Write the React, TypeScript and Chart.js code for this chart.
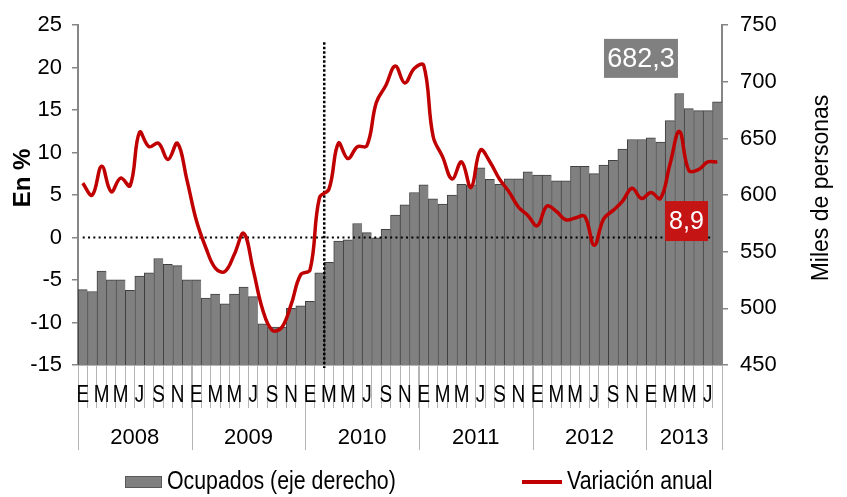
import React, { useEffect, useRef } from 'react';
import { Chart, registerables } from 'chart.js';

Chart.register(...registerables);

// ---- data ----
const monthLetters = ['E', 'F', 'M', 'A', 'M', 'J', 'J', 'A', 'S', 'O', 'N', 'D'];
const years = ['2008', '2009', '2010', '2011', '2012', '2013'];
const monthsPerYear = [12, 12, 12, 12, 12, 8];

// Ocupados (miles de personas), eje derecho
const ocupados = [
  516.6, 514.9, 532.9, 525.1, 525.1, 516.0, 528.6, 531.4, 544.0, 538.9, 537.7, 525.1,
  525.1, 509.1, 512.6, 504.0, 512.6, 518.9, 510.3, 486.3, 483.4, 483.4, 500.0, 502.3,
  506.3, 531.4, 540.6, 559.4, 560.6, 574.9, 566.9, 562.3, 569.7, 582.3, 591.4, 602.3,
  609.1, 596.6, 592.0, 600.0, 609.5, 609.1, 624.0, 614.0, 609.5, 614.3, 614.3, 620.6,
  617.7, 617.7, 612.6, 612.6, 625.4, 625.4, 618.9, 626.6, 630.6, 640.6, 649.1, 649.1,
  650.6, 646.9, 665.7, 689.7, 676.3, 674.6, 674.6, 682.3,
];

// Variación anual (%), eje izquierdo
const variacionAnual = [
  6.4, 5.0, 8.4, 5.4, 7.0, 6.1, 12.4, 10.7, 11.1, 9.2, 11.1, 6.8,
  2.0, -1.2, -3.6, -4.0, -2.0, 0.5, -3.8, -8.5, -10.9, -10.6, -7.9, -4.4,
  -3.8, 4.7, 5.7, 11.1, 9.3, 10.7, 10.8, 15.9, 17.9, 20.2, 18.2, 19.9,
  20.3, 11.9, 9.5, 6.9, 8.9, 5.9, 10.3, 8.9, 6.9, 5.4, 3.6, 2.6,
  1.4, 3.7, 3.1, 2.1, 2.3, 2.5, -0.9, 2.2, 3.2, 4.3, 5.8, 4.6,
  5.3, 4.6, 8.6, 12.5, 7.9, 8.0, 8.9, 8.9,
];

const leftAxis = { min: -15, max: 25, step: 5 };
const rightAxis = { min: 450, max: 750, step: 50 };
const markerAfterIndex = 25; // vertical reference line between Feb-2010 and Mar-2010
const markerTop = 23; // top of the vertical reference line (left axis units)

const seriesNames = ['Ocupados (eje derecho)', 'Variación anual'];
const axisTitles = ['En %', 'Miles de personas'];

// ---- derived ----
const categories: string[] = [];
years.forEach((y, yi) => {
  for (let m = 0; m < monthsPerYear[yi]; m++) categories.push(monthLetters[m] + ' ' + y);
});

const SANS = '"Liberation Sans", Arial, sans-serif';
const NARROW_SCALE = 0.82;
const BAR_COLOR = '#808080';
const LINE_COLOR = '#c00000';
const AXIS_COLOR = '#868686';
const TICK_GRAY = '#b4b4b4';

const fmt = (v: number) => v.toFixed(1).replace('.', ',');

function narrowText(ctx: CanvasRenderingContext2D, text: string, x: number, y: number) {
  ctx.save();
  ctx.translate(x, y);
  ctx.scale(NARROW_SCALE, 1);
  ctx.fillText(text, 0, 0);
  ctx.restore();
}

const extrasPlugin = {
  id: 'extras',
  beforeDatasetDraw(chart: any, args: any) {
    if (args.index !== 1) return;
    const { ctx, chartArea } = chart;
    const xs = chart.scales.x;
    const yl = chart.scales.y;
    const step = xs.getPixelForValue(1) - xs.getPixelForValue(0);
    ctx.save();
    ctx.strokeStyle = '#000';
    // zero line
    ctx.lineWidth = 2;
    ctx.setLineDash([2, 3.3]);
    const y0 = yl.getPixelForValue(0);
    ctx.beginPath();
    ctx.moveTo(xs.getPixelForValue(0), y0);
    ctx.lineTo(xs.getPixelForValue(categories.length - 1) - step / 2, y0);
    ctx.stroke();
    // vertical reference line
    const xv = (xs.getPixelForValue(markerAfterIndex) + xs.getPixelForValue(markerAfterIndex + 1)) / 2;
    ctx.lineWidth = 2.5;
    ctx.setLineDash([2.5, 2]);
    ctx.beginPath();
    ctx.moveTo(xv, yl.getPixelForValue(markerTop));
    ctx.lineTo(xv, chartArea.bottom + 3);
    ctx.stroke();
    ctx.restore();
  },
  afterDraw(chart: any) {
    const { ctx, chartArea } = chart;
    const xs = chart.scales.x;
    const yl = chart.scales.y;
    const yr = chart.scales.y1;
    const step = xs.getPixelForValue(1) - xs.getPixelForValue(0);
    ctx.save();

    // year dividers
    ctx.strokeStyle = TICK_GRAY;
    ctx.lineWidth = 1;
    let start = 0;
    const bounds: number[] = [0];
    monthsPerYear.forEach((n) => { start += n; bounds.push(start); });
    bounds.forEach((b) => {
      const x = Math.round(b < categories.length ? xs.getPixelForValue(b) - step / 2 : xs.getPixelForValue(b - 1) + step / 2) + 0.5;
      ctx.beginPath();
      ctx.moveTo(x, chartArea.bottom);
      ctx.lineTo(x, chartArea.bottom + 85);
      ctx.stroke();
    });

    // month labels (every other month)
    ctx.fillStyle = '#000';
    ctx.textAlign = 'center';
    ctx.textBaseline = 'middle';
    ctx.font = `23px ${SANS}`;
    categories.forEach((c, i) => {
      if (i % 2 !== 0) return;
      narrowText(ctx, c.split(' ')[0], xs.getPixelForValue(i), chartArea.bottom + 30.5);
    });

    // year labels
    ctx.font = `22px ${SANS}`;
    years.forEach((y, i) => {
      const a = bounds[i];
      const b = bounds[i + 1] - 1;
      const cx = (xs.getPixelForValue(a) + xs.getPixelForValue(b)) / 2;
      ctx.fillText(y, cx, chartArea.bottom + 73);
    });

    // axis titles
    ctx.save();
    ctx.translate(23, 178);
    ctx.rotate(-Math.PI / 2);
    ctx.font = `bold 24px ${SANS}`;
    ctx.fillText(axisTitles[0], 0, 0);
    ctx.restore();
    ctx.save();
    ctx.translate(822, 188);
    ctx.rotate(-Math.PI / 2);
    ctx.font = `23px ${SANS}`;
    ctx.fillText(axisTitles[1], 0, 0);
    ctx.restore();

    // value boxes
    const last = categories.length - 1;
    const px = xs.getPixelForValue(last);
    const pyBar = yr.getPixelForValue(ocupados[last]);
    ctx.fillStyle = BAR_COLOR;
    ctx.fillRect(px - 76.3 - 37, pyBar - 43.5 - 19.5, 74, 39);
    ctx.fillStyle = '#fff';
    ctx.font = `27px ${SANS}`;
    ctx.fillText(fmt(ocupados[last]), px - 76.3, pyBar - 43.5 + 1);

    const pyLine = yl.getPixelForValue(variacionAnual[last]);
    ctx.fillStyle = '#c41414';
    ctx.fillRect(px - 30.8 - 21.5, pyLine + 59.1 - 20, 43, 40);
    ctx.fillStyle = '#fff';
    ctx.font = `25px ${SANS}`;
    ctx.fillText(fmt(variacionAnual[last]), px - 30.8, pyLine + 59.1 + 1);

    // legend
    const ly = 482;
    ctx.fillStyle = BAR_COLOR;
    ctx.fillRect(125, ly - 6, 37, 12);
    ctx.strokeStyle = '#333';
    ctx.lineWidth = 1;
    ctx.setLineDash([1, 1]);
    ctx.strokeRect(125.5, ly - 5.5, 36, 11);
    ctx.setLineDash([]);
    ctx.fillStyle = '#000';
    ctx.font = `26px ${SANS}`;
    ctx.textAlign = 'left';
    narrowText(ctx, seriesNames[0], 167, ly);
    ctx.strokeStyle = LINE_COLOR;
    ctx.lineWidth = 4;
    ctx.beginPath();
    ctx.moveTo(522, ly);
    ctx.lineTo(562, ly);
    ctx.stroke();
    narrowText(ctx, seriesNames[1], 567, ly);

    ctx.restore();
  },
};

export default function App() {
  const ref = useRef<HTMLCanvasElement | null>(null);
  useEffect(() => {
    if (!ref.current) return;
    const chart = new Chart(ref.current, {
      data: {
        labels: categories,
        datasets: [
          {
            type: 'bar',
            label: seriesNames[0],
            data: ocupados,
            yAxisID: 'y1',
            backgroundColor: BAR_COLOR,
            borderColor: 'rgba(30,30,30,0.85)',
            borderWidth: { top: 1, left: 1, right: 0, bottom: 0 },
            barPercentage: 1,
            categoryPercentage: 1,
            order: 1,
          },
          {
            type: 'line',
            label: seriesNames[1],
            data: variacionAnual,
            yAxisID: 'y',
            borderColor: LINE_COLOR,
            borderWidth: 3.5,
            pointRadius: 0,
            tension: 0.4,
            fill: false,
            order: 0,
          },
        ],
      } as any,
      plugins: [extrasPlugin],
      options: {
        responsive: false,
        animation: false,
        layout: { padding: { top: 15, left: 0, right: 0, bottom: 0 } },
        plugins: { legend: { display: false }, tooltip: { enabled: false }, title: { display: false } },
        scales: {
          x: {
            type: 'category',
            offset: true,
            grid: { offset: true, drawOnChartArea: false, drawTicks: true, tickLength: 43, color: TICK_GRAY, lineWidth: 1 },
            border: { display: true, color: TICK_GRAY, width: 1 },
            ticks: { display: false, autoSkip: false, maxRotation: 0 },
            afterFit: (s: any) => { s.height = 132; },
          },
          y: {
            position: 'left',
            min: leftAxis.min,
            max: leftAxis.max,
            ticks: { stepSize: leftAxis.step, padding: 10, color: '#000', font: { family: SANS, size: 22 } },
            grid: { drawOnChartArea: false, tickLength: 6, color: AXIS_COLOR, lineWidth: 1.5 },
            border: { color: AXIS_COLOR, width: 2 },
            afterFit: (s: any) => { s.width = 78; },
          },
          y1: {
            position: 'right',
            min: rightAxis.min,
            max: rightAxis.max,
            ticks: { stepSize: rightAxis.step, padding: 12, color: '#000', font: { family: SANS, size: 22 } },
            grid: { drawOnChartArea: false, tickLength: 6, color: AXIS_COLOR, lineWidth: 1.5 },
            border: { color: AXIS_COLOR, width: 2 },
            afterFit: (s: any) => { s.width = 125; },
          },
        },
      } as any,
    });
    return () => chart.destroy();
  }, []);
  return (
    <div style={{ position: 'absolute', left: 0, top: 0, width: 847, height: 497, background: '#fff' }}>
      <canvas ref={ref} width={847} height={497} style={{ display: 'block' }} />
    </div>
  );
}
